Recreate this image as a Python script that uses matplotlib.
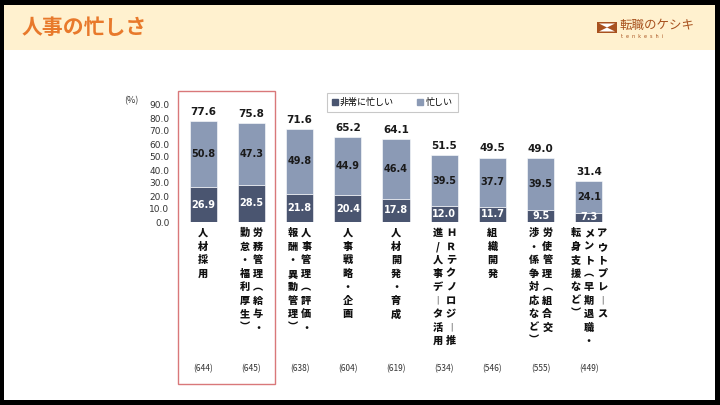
import matplotlib.pyplot as plt
from matplotlib.lines import Line2D
from matplotlib.patches import Polygon, Rectangle

plt.rcParams["font.family"] = ["Noto Sans CJK JP", "DejaVu Sans"]

# vertical label columns, right column first
CATEGORIES = [
    ["人材採用"],
    ["労務管理︵給与・", "勤怠・福利厚生︶"],
    ["人事管理︵評価・", "報酬・異動管理︶"],
    ["人事戦略・企画"],
    ["人材開発・育成"],
    ["ＨＲテクノロジ︱推", "進/人事デ︱タ活用"],
    ["組織開発"],
    ["労使管理︵組合交", "渉・係争対応など︶"],
    ["アウトプレ︱ス", "メント︵早期退職・", "転身支援など︶"],
]
VERY_BUSY = [26.9, 28.5, 21.8, 20.4, 17.8, 12.0, 11.7, 9.5, 7.3]
BUSY = [50.8, 47.3, 49.8, 44.9, 46.4, 39.5, 37.7, 39.5, 24.1]
TOTAL = [77.6, 75.8, 71.6, 65.2, 64.1, 51.5, 49.5, 49.0, 31.4]
N_RESP = [644, 645, 638, 604, 619, 534, 546, 555, 449]
Y_TICKS = [0, 10, 20, 30, 40, 50, 60, 70, 80, 90]
SERIES_NAMES = ["非常に忙しい", "忙しい"]

DARK = "#4a5570"
LIGHT = "#8b9ab5"
W, H = 720, 405

fig = plt.figure(figsize=(7.2, 4.05), dpi=100, facecolor="black")

# slide background and header band
fig.patches.append(Rectangle((4 / W, 5 / H), 711 / W, 395 / H, transform=fig.transFigure,
                             facecolor="white", edgecolor="none", zorder=-10))
fig.patches.append(Rectangle((4 / W, 1 - 50 / H), 711 / W, 45 / H, transform=fig.transFigure,
                             facecolor="#fff1cf", edgecolor="none", zorder=-9))
fig.text(22 / W, 1 - 28 / H, "人事の忙しさ", fontsize=15, fontweight="bold",
         color="#e8792b", va="center", ha="left")

# logo
fig.patches.append(Rectangle((597 / W, 1 - 33 / H), 20 / W, 11 / H, transform=fig.transFigure,
                             facecolor="#a8521f", edgecolor="none"))
fig.patches.append(Polygon([(599 / W, 1 - 23.5 / H), (615 / W, 1 - 23.5 / H), (607 / W, 1 - 27.5 / H)],
                           transform=fig.transFigure, facecolor="white", edgecolor="none"))
fig.patches.append(Polygon([(599 / W, 1 - 31.5 / H), (615 / W, 1 - 31.5 / H), (607 / W, 1 - 27.5 / H)],
                           transform=fig.transFigure, facecolor="white", edgecolor="none"))
fig.text(620 / W, 1 - 26 / H, "転職のケシキ", fontsize=9, color="#a8521f", va="center", ha="left")
fig.text(621 / W, 1 - 36 / H, "t  e  n  k  e  s  h  i", fontsize=3.5, color="#a8521f",
         va="center", ha="left", family="DejaVu Sans")

ax = fig.add_axes([179 / W, 1 - 222 / H, 434 / W, 117 / H])
x = list(range(len(TOTAL)))
ax.bar(x, VERY_BUSY, width=0.56, color=DARK, edgecolor="white", linewidth=0.4)
ax.bar(x, BUSY, width=0.56, bottom=VERY_BUSY, color=LIGHT, edgecolor="white", linewidth=0.4)

for i in x:
    ax.text(i, VERY_BUSY[i] / 2, f"{VERY_BUSY[i]:.1f}", ha="center", va="center",
            color="white", fontsize=7, fontweight="bold", family="DejaVu Sans")
    ax.text(i, VERY_BUSY[i] + BUSY[i] / 2, f"{BUSY[i]:.1f}", ha="center", va="center",
            color="#1a1a1a", fontsize=7, fontweight="bold", family="DejaVu Sans")
    ax.annotate(f"{TOTAL[i]:.1f}", (i, TOTAL[i]), xytext=(0, 3), textcoords="offset points",
                ha="center", va="bottom", fontsize=7.5, fontweight="bold", color="#1a1a1a",
                family="DejaVu Sans")
    cols = CATEGORIES[i]
    ncol = len(cols)
    for c, col in enumerate(cols):
        dx = ((ncol - 1) / 2 - c) * 9.7
        for k, ch in enumerate(col):
            ax.annotate(ch, (i, 0), xytext=(dx, -8 - k * 9.72), textcoords="offset points",
                        ha="center", va="center", fontsize=7.3, fontweight="heavy",
                        color="#111111", annotation_clip=False)
    ax.text(i, -1.256, f"({N_RESP[i]})", transform=ax.get_xaxis_transform(),
            ha="center", va="center", fontsize=6, color="#333333")

# highlight box around first two categories
ax.add_patch(Rectangle((-0.52, -1.385), 2.02, 2.505, transform=ax.get_xaxis_transform(),
                       facecolor="none", edgecolor="#d9787a", linewidth=1, clip_on=False))

ax.set_xlim(-0.5, len(TOTAL) - 0.5)
ax.set_ylim(0, 90)
ax.set_yticks(Y_TICKS)
ax.set_yticklabels([f"{t:.1f}" for t in Y_TICKS], fontsize=6.5, color="#333333",
                   family="DejaVu Sans")
ax.tick_params(axis="y", length=0, pad=7)
ax.set_xticks([])
for s in ax.spines.values():
    s.set_visible(False)
ax.patch.set_alpha(0)
fig.text(131 / W, 1 - 101 / H, "(%)", fontsize=6.5, color="#333333", ha="center", va="center")

handles = [Line2D([], [], marker="s", linestyle="none", markersize=4, color=DARK),
           Line2D([], [], marker="s", linestyle="none", markersize=4, color=LIGHT)]
leg = fig.legend(handles, SERIES_NAMES, loc="upper left", bbox_to_anchor=(327 / W, 1 - 93 / H),
                 ncol=2, fontsize=6.5, frameon=True, fancybox=False, handlelength=0.6,
                 handletextpad=0.3, columnspacing=2.6, borderpad=0.55, borderaxespad=0)
leg.get_frame().set_edgecolor("#bbbbbb")
leg.get_frame().set_linewidth(0.8)

fig.savefig("out.png", dpi=100, facecolor="black")
